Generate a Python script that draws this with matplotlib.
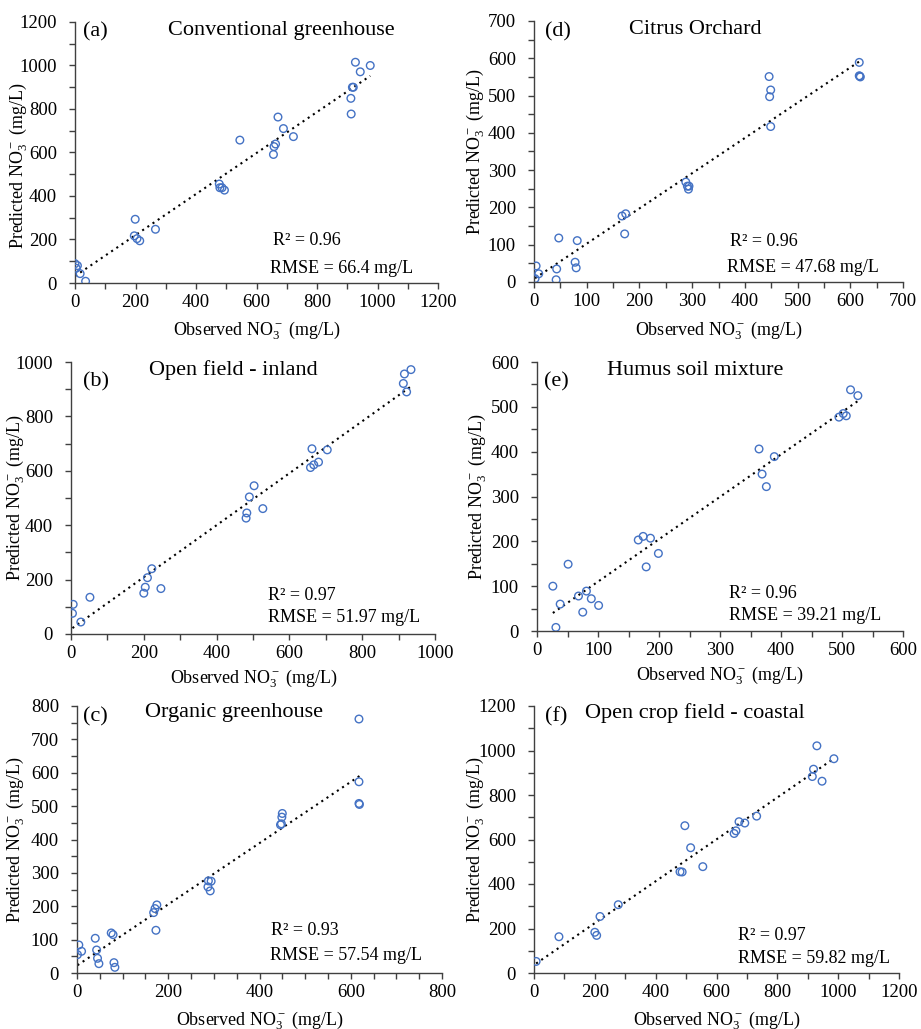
import numpy as np
import matplotlib
matplotlib.use("Agg")
import matplotlib.pyplot as plt
from matplotlib.ticker import MultipleLocator

plt.rcParams["font.family"] = ["Liberation Serif", "DejaVu Serif"]
plt.rcParams["mathtext.fontset"] = "custom"
plt.rcParams["mathtext.rm"] = "Liberation Serif"
plt.rcParams["mathtext.it"] = "Liberation Serif:italic"

# ---- observed vs predicted nitrate (mg/L) per site ----
obs_a = [0, 8, 4, 17, 35, 199, 196, 205, 214, 266, 477, 479, 486, 494, 545,
         656, 658, 663, 671, 689, 722, 913, 912, 917, 920, 927, 943, 976]
pred_a = [89, 80, 68, 43, 8, 293, 217, 204, 194, 247, 455, 438, 438, 427, 657,
          591, 627, 639, 763, 710, 673, 777, 849, 900, 900, 1015, 971, 1000]

obs_b = [6, 4, 27, 52, 200, 204, 210, 222, 247, 481, 483, 490, 503, 527,
         658, 667, 680, 662, 704, 913, 916, 934, 922]
pred_b = [109, 76, 44, 135, 150, 172, 207, 240, 167, 426, 445, 504, 545, 461,
          612, 622, 632, 681, 677, 921, 956, 972, 890]

obs_c = [1, 4, 10, 40, 43, 45, 48, 75, 79, 81, 83, 168, 171, 175, 173,
         287, 288, 292, 294, 446, 448, 449, 450, 618, 618, 618, 619]
pred_c = [55, 84, 65, 104, 69, 44, 28, 120, 115, 31, 17, 181, 193, 204, 128,
          258, 276, 246, 275, 444, 447, 467, 478, 761, 573, 508, 505]

obs_d = [4, 9, 2, 42, 43, 47, 78, 80, 82, 167, 174, 172, 288, 291, 293, 294,
         446, 449, 447, 449, 617, 618, 619, 617]
pred_d = [43, 22, 9, 6, 35, 118, 53, 38, 111, 177, 183, 129, 268, 257, 249, 257,
          551, 515, 497, 417, 589, 552, 550, 553]

obs_e = [26, 31, 38, 51, 68, 75, 81, 89, 101, 166, 174, 186, 179, 199,
         364, 369, 376, 389, 495, 502, 507, 514, 526]
pred_e = [100, 8, 60, 149, 78, 42, 89, 72, 57, 203, 211, 207, 143, 173,
          406, 350, 322, 389, 477, 485, 480, 538, 525]

obs_f = [7, 82, 200, 206, 217, 277, 480, 487, 496, 515, 555, 658, 664, 674,
         693, 732, 915, 919, 947, 930, 986]
pred_f = [52, 163, 183, 169, 254, 307, 455, 454, 662, 563, 478, 627, 639, 680,
          674, 705, 883, 916, 862, 1021, 963]

tags = ["(a)", "(b)", "(c)", "(d)", "(e)", "(f)"]
titles = ["Conventional greenhouse", "Open field - inland", "Organic greenhouse",
          "Citrus Orchard", "Humus soil mixture", "Open crop field - coastal"]
r2_labels = ["0.96", "0.97", "0.93", "0.96", "0.96", "0.97"]
rmse_labels = ["66.4", "51.97", "57.54", "47.68", "39.21", "59.82"]
x_limits = [1200, 1000, 800, 700, 600, 1200]
y_limits = [1200, 1000, 800, 700, 600, 1200]
x_major = [200, 200, 200, 100, 100, 200]
x_minor = [100, 100, 50, 50, 50, 100]
y_major = [200, 200, 100, 100, 100, 200]
y_minor = [100, 100, 50, 50, 50, 100]

observed = [obs_a, obs_b, obs_c, obs_d, obs_e, obs_f]
predicted = [pred_a, pred_b, pred_c, pred_d, pred_e, pred_f]

W, H = 921, 1029
fig = plt.figure(figsize=(W / 100, H / 100), dpi=100)

# panel boxes in pixels: left, top, right, bottom
boxes = [(75, 22, 438, 283), (71, 362, 435, 634), (77, 706, 442, 973),
         (534, 21, 903, 282), (537, 362, 903, 631), (534, 706, 899, 973)]
# title / tag / stats placement in axes fractions
tag_pos = [(0.022, 0.962), (0.033, 0.926), (0.016, 0.959),
           (0.030, 0.958), (0.020, 0.926), (0.030, 0.959)]
title_pos = [(0.567, 0.969), (0.445, 0.970), (0.430, 0.974),
             (0.436, 0.966), (0.432, 0.970), (0.441, 0.974)]
r2_pos = [(0.545, 0.161), (0.541, 0.140), (0.531, 0.161),
          (0.531, 0.157), (0.525, 0.138), (0.559, 0.139)]
rmse_pos = [(0.537, 0.057), (0.541, 0.059), (0.529, 0.067),
            (0.523, 0.054), (0.525, 0.056), (0.558, 0.056)]
ylab_pos = [(-0.158, 0.45), (-0.154, 0.50), (-0.170, 0.50),
            (-0.160, 0.50), (-0.164, 0.50), (-0.161, 0.50)]
xlab_pos = [(0.50, -0.180), (0.503, -0.162), (0.50, -0.176),
            (0.50, -0.184), (0.50, -0.164), (0.50, -0.176)]

axis_color = "#404040"
marker_color = "#4472C4"

for i in range(6):
    l, t, r, b = boxes[i]
    ax = fig.add_axes([l / W, 1 - b / H, (r - l) / W, (b - t) / H])
    x = np.array(observed[i], dtype=float)
    y = np.array(predicted[i], dtype=float)

    ax.scatter(x, y, s=30, facecolors="none", edgecolors=marker_color,
               linewidths=1.0, zorder=3)

    # least-squares trend line over the observed range
    k, c = np.polyfit(x, y, 1)
    xs = np.array([x.min(), x.max()])
    ax.plot(xs, k * xs + c, color="black", linestyle=(0, (1, 2)),
            linewidth=1.5, zorder=2)

    ax.set_xlim(0, x_limits[i])
    ax.set_ylim(0, y_limits[i])
    ax.xaxis.set_major_locator(MultipleLocator(x_major[i]))
    ax.xaxis.set_minor_locator(MultipleLocator(x_minor[i]))
    ax.yaxis.set_major_locator(MultipleLocator(y_major[i]))
    ax.yaxis.set_minor_locator(MultipleLocator(y_minor[i]))

    for side in ("top", "right"):
        ax.spines[side].set_visible(False)
    for side in ("left", "bottom"):
        ax.spines[side].set_color(axis_color)
        ax.spines[side].set_linewidth(1.0)

    ax.tick_params(which="both", direction="out", length=4, width=1.0,
                   color=axis_color, labelsize=13.5, labelcolor="black")
    ax.tick_params(axis="x", which="major", pad=4)
    ax.tick_params(axis="y", which="major", pad=9)

    ax.set_xlabel("Observed NO$_3^-$ (mg/L)", fontsize=13)
    ax.set_ylabel("Predicted NO$_3^-$ (mg/L)", fontsize=13)
    ax.xaxis.label.set_va("center")
    ax.yaxis.label.set_va("center")
    ax.xaxis.set_label_coords(*xlab_pos[i])
    ax.yaxis.set_label_coords(*ylab_pos[i])

    ax.text(*tag_pos[i], tags[i], transform=ax.transAxes, fontsize=16,
            ha="left", va="center")
    ax.text(*title_pos[i], titles[i], transform=ax.transAxes, fontsize=16,
            ha="center", va="center")
    ax.text(*r2_pos[i], "R² = " + r2_labels[i], transform=ax.transAxes,
            fontsize=13, ha="left", va="center")
    ax.text(*rmse_pos[i], "RMSE = " + rmse_labels[i] + " mg/L",
            transform=ax.transAxes, fontsize=13, ha="left", va="center")

fig.savefig("out.png", dpi=100)
